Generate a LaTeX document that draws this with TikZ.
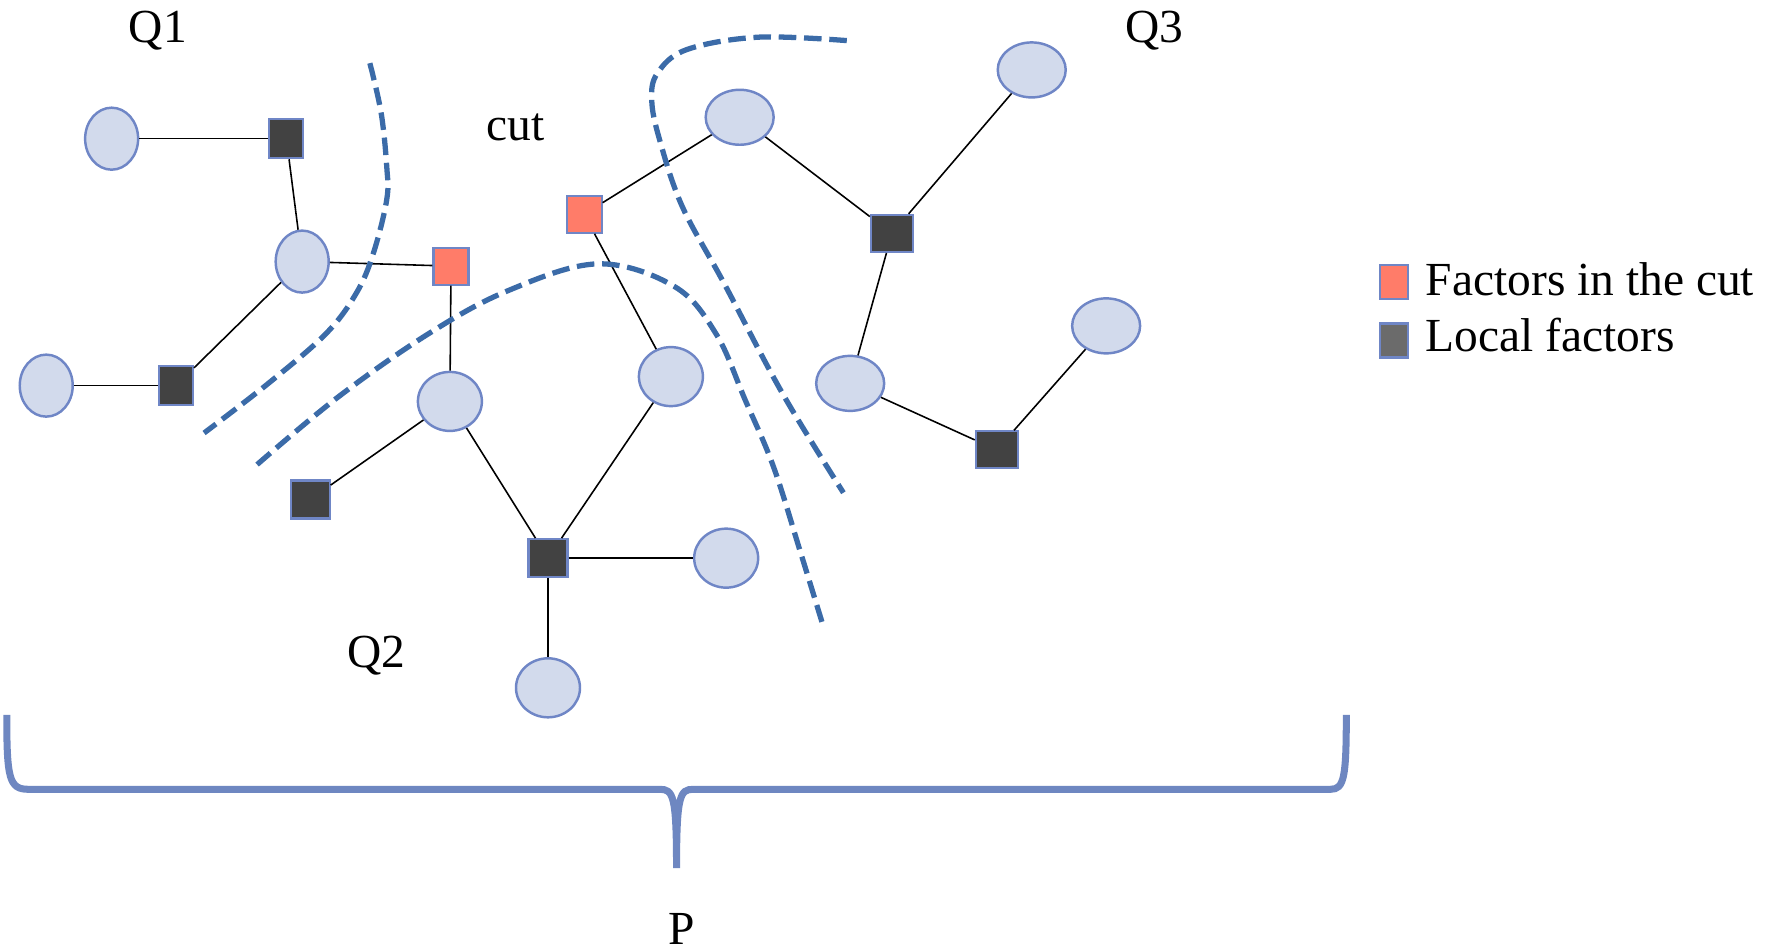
\documentclass[tikz,border=0pt]{standalone}
\usepackage{fontspec}
\setmainfont{Liberation Serif}
\usepackage{xcolor}
\usetikzlibrary{shapes.geometric}

\definecolor{cutblue}{HTML}{3B6BA8}
\definecolor{bracecol}{HTML}{6E87C1}
\definecolor{varfill}{HTML}{D2DAEC}
\definecolor{varedge}{HTML}{6F86C6}
\definecolor{cutred}{HTML}{FF7C69}
\definecolor{localgray}{HTML}{424242}
\definecolor{keygray}{HTML}{6B6B6B}

\begin{document}
\begin{tikzpicture}[x=0.011276cm, y=-0.011276cm, font=\fontsize{13.5}{16}\selectfont,
    var/.style={ellipse, draw=varedge, fill=varfill, line width=0.7pt, inner sep=0pt},
    vtall/.style={var, minimum width=0.53cm, minimum height=0.62cm},
    vmid/.style={var, minimum width=0.64cm, minimum height=0.59cm},
    vwide/.style={var, minimum width=0.68cm, minimum height=0.55cm},
    factor/.style={rectangle, draw=varedge, line width=0.6pt, inner sep=0pt},
    local/.style={factor, fill=localgray},
    incut/.style={factor, fill=cutred, minimum width=0.35cm, minimum height=0.37cm},
    edge/.style={black, line width=0.45pt},
    cutline/.style={cutblue, line width=1.5pt, dash pattern=on 5pt off 2.2pt},
    label/.style={anchor=base}]
    \useasboundingbox (0,0) rectangle (1568,843);

    % variables
    \node[vtall] (v1) at (99,123) {};
    \node[vtall] (v2) at (268,232) {};
    \node[vtall] (v3) at (41,342) {};
    \node[vmid] (v4) at (399,356) {};
    \node[vmid] (v5) at (595,334) {};
    \node[vwide] (v6) at (656,104) {};
    \node[vwide] (v7) at (915,62) {};
    \node[vwide] (v8) at (754,340) {};
    \node[vwide] (v9) at (981,289) {};
    \node[vmid] (v10) at (644,495) {};
    \node[vmid] (v11) at (486,610) {};

    % factors
    \node[local, minimum width=0.34cm, minimum height=0.39cm] (f1) at (254,123) {};
    \node[local, minimum width=0.34cm, minimum height=0.39cm] (f2) at (156,342) {};
    \node[incut] (f3) at (400,236) {};
    \node[incut] (f4) at (518,190) {};
    \node[local, minimum width=0.39cm, minimum height=0.38cm] (f5) at (275,443) {};
    \node[local, minimum width=0.39cm, minimum height=0.38cm] (f6) at (486,495) {};
    \node[local, minimum width=0.42cm, minimum height=0.37cm] (f7) at (791,207) {};
    \node[local, minimum width=0.42cm, minimum height=0.37cm] (f8) at (884,399) {};

    % edges
    \foreach \a/\b in {v1/f1, f1/v2, v2/f3, v2/f2, f2/v3, f3/v4, v4/f5, v4/f6,
                       f6/v5, f6/v10, f6/v11, f4/v5, f4/v6, v6/f7, f7/v7, f7/v8,
                       v8/f8, f8/v9}
        \draw[edge] (\a) -- (\b);

    % cuts
    \draw[cutline] plot[smooth, tension=0.6] coordinates {(328,56) (338,100) (343,148) (343,177) (331,225) (316,260) (289,296) (238,340) (181,384)};
    \draw[cutline] plot[smooth, tension=0.6] coordinates {(228,412) (300,352) (380,296) (450,258) (530,234) (598,254) (635,296) (661,355) (686,414) (710,490) (730,555)};
    \draw[cutline] plot[smooth, tension=0.6] coordinates {(751,36) (672,33) (609,44) (583,65) (578,89) (585,124) (605,183) (642,251) (694,349) (748,437)};

    % labels
    \node[label] (q1) at (140,38) {Q1};
    \node[label] (cut) at (457,125) {cut};
    \node[label] (q3) at (1024,38) {Q3};
    \node[label] (q2) at (334,592) {Q2};
    \node[label] (p) at (605,838) {P};

    % brace
    \draw[bracecol, line width=2pt] (6,634) .. controls (6,690) and (8,700) .. (25,700)
        -- (585,700) .. controls (597,700) and (600,705) .. (600,770)
        .. controls (600,705) and (603,700) .. (615,700)
        -- (1180,700) .. controls (1192,700) and (1194,690) .. (1194,634);

    % legend
    \node[factor, fill=cutred, minimum width=0.28cm, minimum height=0.34cm] (k1) at (1236,250) {};
    \node[factor, fill=keygray, minimum width=0.28cm, minimum height=0.34cm] (k2) at (1236,302) {};
    \node[anchor=base west, inner sep=0pt] (t1) at (1264,262) {Factors in the cut};
    \node[anchor=base west, inner sep=0pt] (t2) at (1264,312) {Local factors};
\end{tikzpicture}
\end{document}
